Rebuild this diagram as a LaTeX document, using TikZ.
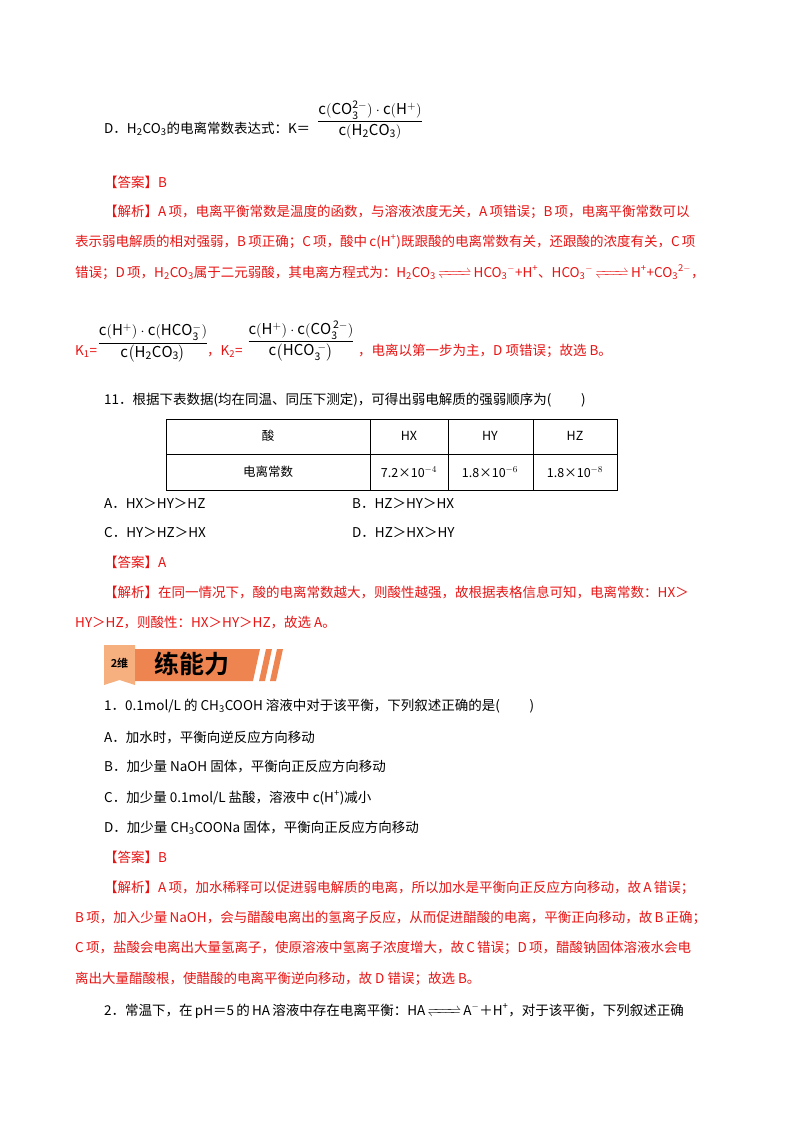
\documentclass[tikz,border=0pt]{standalone}
\usepackage{fontspec}
\usepackage{mathtools}
\setmainfont{Noto Sans CJK SC}
\newfontfamily\cjkb{Noto Sans CJK SC Bold}
\XeTeXlinebreaklocale "zh"
\XeTeXlinebreakskip=0pt plus 2pt
\definecolor{ansred}{RGB}{232,20,20}
\definecolor{tagor}{RGB}{246,176,128}
\definecolor{baror}{RGB}{238,132,80}
\newcommand\lo[1]{\textsubscript{#1}}
\newcommand\hi[1]{\textsuperscript{#1}}
\newcommand\fl[1]{\hbox to 630pt{#1}}
\newcommand\flb[1]{\hbox to 601pt{#1}}
\newcommand\eqa{$\xrightleftharpoons{\hphantom{xxxxx}}$}
\begin{document}
\begin{tikzpicture}[x=1pt,y=-1pt,
  t/.style={anchor=base west,inner sep=0pt,font=\fontsize{13.5}{16}\selectfont},
  r/.style={t,text=ansred},
  fr/.style={inner sep=0pt,font=\fontsize{15}{18}\selectfont},
  cell/.style={inner sep=0pt,font=\fontsize{12.5}{15}\selectfont}]
\useasboundingbox[fill=white] (0,0) rectangle (800,1132);
% D line
\node[t] (d) at (104,133) {D．H\lo{2}CO\lo{3}的电离常数表达式：K＝};
\node[fr] (f0) at (370,120) {$\dfrac{\mathrm{c(CO_3^{2-})\cdot c(H^{+})}}{\mathrm{c(H_2CO_3)}}$};
\node[r] (a1) at (104,187) {【答案】B};
\node[r] (j1) at (104,216) {\flb{【解析】A\,项，电离平衡常数是温度的函数，与溶液浓度无关，A\,项错误；B\,项，电离平衡常数可以}};
\node[r] (j2) at (75,246) {\fl{表示弱电解质的相对强弱，B\,项正确；C\,项，酸中\,c(H\hi{+})既跟酸的电离常数有关，还跟酸的浓度有关，C\,项}};
\node[r] (j3) at (75,277) {\fl{错误；D\,项，H\lo{2}CO\lo{3}属于二元弱酸，其电离方程式为：H\lo{2}CO\lo{3}\,\eqa\,HCO\lo{3}\hi{$-$}+H\hi{+}、HCO\lo{3}\hi{$-$}\,\eqa\,H\hi{+}+CO\lo{3}\hi{2$-$}，}};
\node[r] (k1) at (75,355) {K\lo{1}=};
\node[fr] (f1) at (153,343) {$\dfrac{\mathrm{c(H^{+})\cdot c(HCO_3^{-})}}{\mathrm{c\bigl(H_2CO_3\bigr)}}$};
\node[r] (k2) at (207,355) {，K\lo{2}=};
\node[fr] (f2) at (301,341) {$\dfrac{\mathrm{c(H^{+})\cdot c(CO_3^{\,2-})}}{\mathrm{c\bigl(HCO_3^{\;-}\bigr)}}$};
\node[r] (k3) at (358,355) {，电离以第一步为主，D 项错误；故选 B。};
% Q11
\node[t] (q11) at (104,404) {11．根据下表数据(均在同温、同压下测定)，可得出弱电解质的强弱顺序为(\hspace{2.2em})};
\draw[line width=0.9pt] (166,419) rectangle (617,490);
\draw[line width=0.9pt] (166,454) -- (617,454) (370,419) -- (370,490) (448,419) -- (448,490) (533,419) -- (533,490);
\node[cell] (c11) at (268,436) {酸};
\node[cell] (c12) at (409,436) {HX};
\node[cell] (c13) at (490,436) {HY};
\node[cell] (c14) at (575,436) {HZ};
\node[cell] (c21) at (268,472) {电离常数};
\node[cell] (c22) at (409,472) {7.2×10$^{-4}$};
\node[cell] (c23) at (490,472) {1.8×10$^{-6}$};
\node[cell] (c24) at (575,472) {1.8×10$^{-8}$};
\node[t] (oa) at (104,508) {A．HX＞HY＞HZ};
\node[t] (ob) at (352,508) {B．HZ＞HY＞HX};
\node[t] (oc) at (104,537) {C．HY＞HZ＞HX};
\node[t] (od) at (352,537) {D．HZ＞HX＞HY};
\node[r] (a2) at (104,567) {【答案】A};
\node[r] (j4) at (104,597) {\flb{【解析】在同一情况下，酸的电离常数越大，则酸性越强，故根据表格信息可知，电离常数：HX＞}};
\node[r] (j5) at (75,627) {HY＞HZ，则酸性：HX＞HY＞HZ，故选 A。};
% banner
\fill[tagor] (104,645) -- (135,645) -- (135,685) -- (119.5,680) -- (104,685) -- cycle;
\fill[baror] (135,649) -- (260,649) -- (253,681) -- (135,681) -- cycle;
\fill[baror] (266,649) -- (272,649) -- (265,681) -- (259,681) -- cycle;
\fill[baror] (277,649) -- (283,649) -- (276,681) -- (270,681) -- cycle;
\node[inner sep=0pt,font=\cjkb\fontsize{11}{12}\selectfont] (tag) at (119.5,663) {2维};
\node[inner sep=0pt,font=\cjkb\fontsize{25}{28}\selectfont] (ban) at (192,664) {练能力};
% Q1
\node[t] (q1) at (104,710) {1．0.1mol/L 的 CH\lo{3}COOH 溶液中对于该平衡，下列叙述正确的是(\hspace{2.2em})};
\node[t] (p1) at (104,742) {A．加水时，平衡向逆反应方向移动};
\node[t] (p2) at (104,771) {B．加少量 NaOH 固体，平衡向正反应方向移动};
\node[t] (p3) at (104,802) {C．加少量 0.1mol/L 盐酸，溶液中 c(H\hi{+})减小};
\node[t] (p4) at (104,832) {D．加少量 CH\lo{3}COONa 固体，平衡向正反应方向移动};
\node[r] (a3) at (104,862) {【答案】B};
\node[r] (j6) at (104,892) {\flb{【解析】A\,项，加水稀释可以促进弱电解质的电离，所以加水是平衡向正反应方向移动，故\,A\,错误；}};
\node[r] (j7) at (75,922) {\fl{B\,项，加入少量\,NaOH，会与醋酸电离出的氢离子反应，从而促进醋酸的电离，平衡正向移动，故\,B\,正确；}};
\node[r] (j8) at (75,952) {\fl{C\,项，盐酸会电离出大量氢离子，使原溶液中氢离子浓度增大，故\,C\,错误；D\,项，醋酸钠固体溶液水会电}};
\node[r] (j9) at (75,983) {离出大量醋酸根，使醋酸的电离平衡逆向移动，故 D 错误；故选 B。};
\node[t] (q2) at (104,1015) {\hbox to 601pt{2．常温下，在\,pH＝5\,的\,HA\,溶液中存在电离平衡：HA\,\eqa\,A\hi{$-$}＋H\hi{+}，对于该平衡，下列叙述正确}};
\end{tikzpicture}
\end{document}
